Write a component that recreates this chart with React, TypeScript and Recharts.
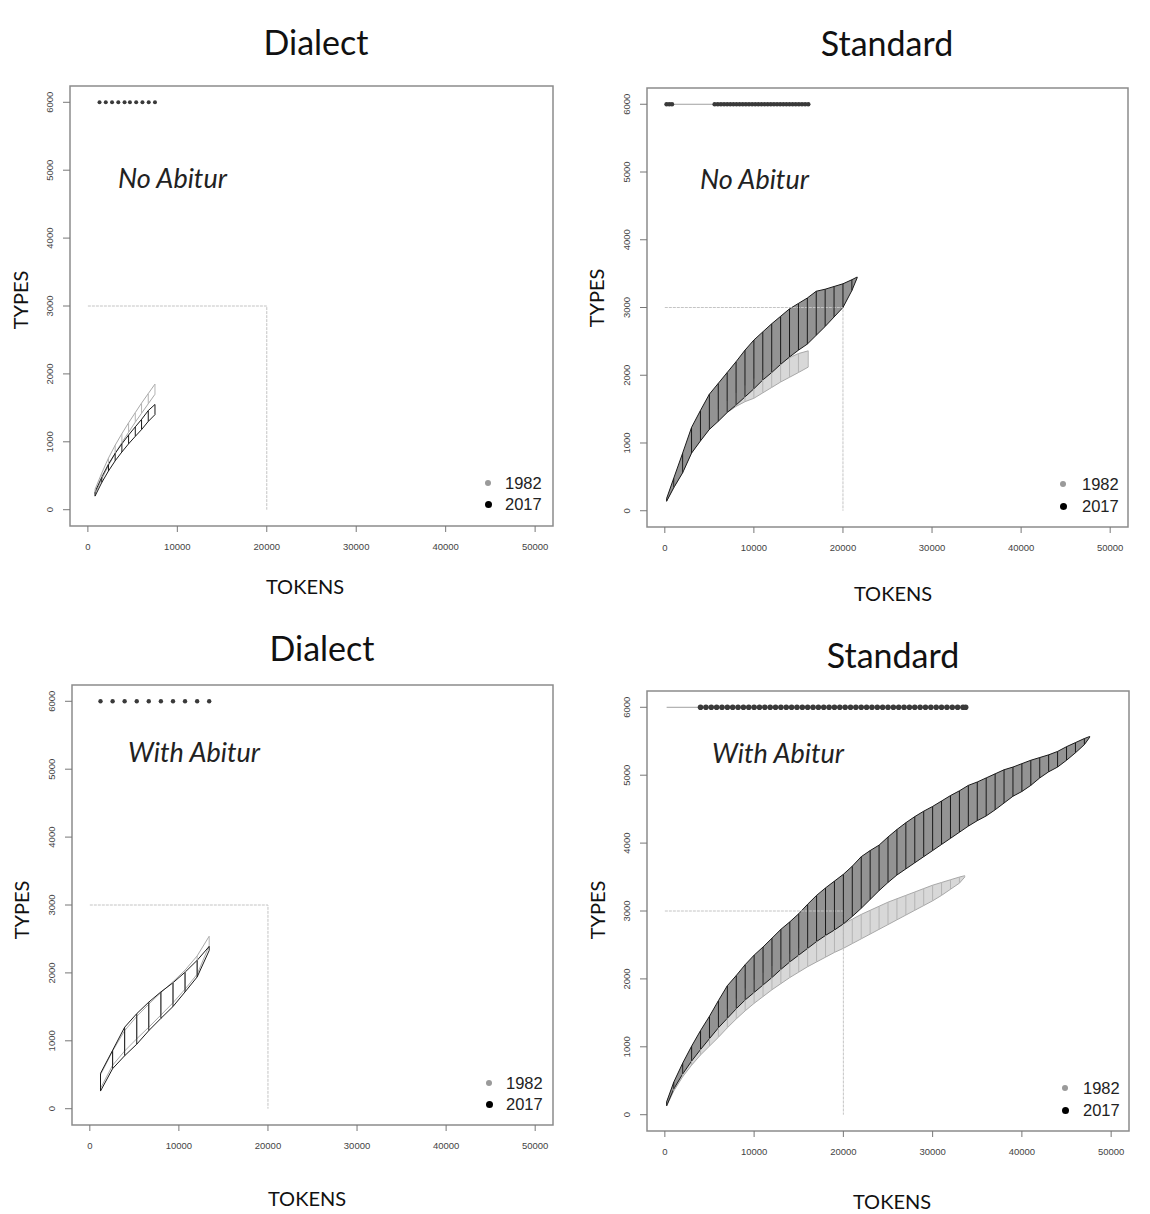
import React from 'react';
import { ComposedChart, XAxis, YAxis, Line, Area, Scatter, ErrorBar, ReferenceArea } from 'recharts';

const tokenTicks = [0, 10000, 20000, 30000, 40000, 50000];
const typeTicks = [0, 1000, 2000, 3000, 4000, 5000, 6000];
const guideTokens = [0, 20000, 20000];
const guideTypes = [3000, 3000, 0];
const legendYears = ['1982', '2017'];

// Dialect, no Abitur
const dnaTokens = [800, 1550, 2300, 3050, 3800, 4550, 5300, 6000, 6750, 7500];
const dna1982Lo = [230, 450, 650, 830, 990, 1140, 1290, 1420, 1560, 1700];
const dna1982Hi = [300, 540, 760, 950, 1120, 1280, 1430, 1570, 1710, 1850];
const dna2017Lo = [200, 400, 570, 720, 850, 970, 1080, 1180, 1300, 1400];
const dna2017Hi = [260, 480, 670, 830, 970, 1100, 1220, 1330, 1460, 1550];
const dnaSig = [1300, 2000, 2700, 3400, 4100, 4700, 5400, 6100, 6800, 7500];

// Standard, no Abitur
const sna2017Tokens = [200, 1000, 2000, 3000, 4000, 5000, 6000, 7000, 8000, 9000, 10000, 11000, 12000, 13000, 14000, 15000, 16000, 17000, 18000, 19000, 20000, 21000, 21600];
const sna2017Lo = [140, 340, 560, 850, 1030, 1200, 1320, 1450, 1560, 1680, 1800, 1930, 2040, 2160, 2270, 2370, 2460, 2590, 2720, 2860, 3000, 3250, 3440];
const sna2017Hi = [180, 480, 850, 1230, 1480, 1720, 1880, 2040, 2200, 2370, 2520, 2640, 2760, 2870, 2980, 3060, 3140, 3240, 3270, 3310, 3350, 3410, 3450];
const sna1982Tokens = [200, 1000, 2000, 3000, 4000, 5000, 6000, 7000, 8000, 9000, 10000, 11000, 12000, 13000, 14000, 15000, 16100];
const sna1982Lo = [140, 340, 570, 860, 1040, 1210, 1330, 1450, 1540, 1610, 1660, 1740, 1820, 1900, 1970, 2040, 2120];
const sna1982Hi = [170, 430, 720, 960, 1170, 1340, 1490, 1620, 1740, 1850, 1950, 2040, 2120, 2190, 2260, 2320, 2360];
const snaSig = [200, 500, 800, 5600, 5950, 6300, 6650, 7000, 7350, 7700, 8050, 8400, 8750, 9100, 9450, 9800, 10150, 10500, 10850, 11200, 11550, 11900, 12250, 12600, 12950, 13300, 13650, 14000, 14350, 14700, 15050, 15400, 15750, 16100];
const snaSigSpan = [200, 16100];

// Dialect, with Abitur
const dwaTokens = [1200, 2560, 3910, 5270, 6620, 7980, 9340, 10690, 12050, 13400];
const dwa1982Lo = [300, 640, 850, 1030, 1200, 1380, 1560, 1760, 1980, 2400];
const dwa1982Hi = [500, 850, 1150, 1360, 1540, 1710, 1870, 2040, 2250, 2540];
const dwa2017Lo = [260, 590, 780, 950, 1150, 1330, 1505, 1720, 1940, 2330];
const dwa2017Hi = [520, 860, 1200, 1400, 1570, 1720, 1855, 2010, 2185, 2390];
const dwaSig = [1200, 2560, 3910, 5270, 6620, 7980, 9340, 10690, 12050, 13400];

// Standard, with Abitur
const swa2017Tokens = [200, 1000, 2000, 3000, 4000, 5000, 6000, 7000, 8000, 9000, 10000, 11000, 12000, 13000, 14000, 15000, 16000, 17000, 18000, 19000, 20000, 21000, 22000, 23000, 24000, 25000, 26000, 27000, 28000, 29000, 30000, 31000, 32000, 33000, 34000, 35000, 36000, 37000, 38000, 39000, 40000, 41000, 42000, 43000, 44000, 45000, 46000, 47000, 47600];
const swa2017Lo = [130, 380, 600, 790, 960, 1120, 1280, 1420, 1560, 1690, 1800, 1910, 2020, 2140, 2250, 2350, 2450, 2550, 2640, 2720, 2810, 2920, 3040, 3170, 3300, 3420, 3530, 3620, 3710, 3800, 3890, 3980, 4070, 4160, 4250, 4330, 4400, 4490, 4590, 4690, 4760, 4850, 4960, 5050, 5120, 5220, 5330, 5450, 5560];
const swa2017Hi = [190, 480, 760, 1010, 1240, 1450, 1680, 1900, 2050, 2210, 2350, 2470, 2600, 2730, 2840, 2960, 3100, 3230, 3340, 3440, 3540, 3660, 3800, 3890, 3970, 4090, 4200, 4300, 4390, 4470, 4540, 4620, 4700, 4770, 4850, 4900, 4960, 5020, 5080, 5120, 5170, 5220, 5260, 5300, 5350, 5420, 5480, 5540, 5570];
const swa1982Tokens = [200, 1000, 2000, 3000, 4000, 5000, 6000, 7000, 8000, 9000, 10000, 11000, 12000, 13000, 14000, 15000, 16000, 17000, 18000, 19000, 20000, 21000, 22000, 23000, 24000, 25000, 26000, 27000, 28000, 29000, 30000, 31000, 32000, 33000, 33600];
const swa1982Lo = [130, 350, 560, 730, 880, 1010, 1140, 1280, 1410, 1530, 1640, 1740, 1840, 1930, 2020, 2100, 2180, 2250, 2320, 2390, 2450, 2520, 2590, 2660, 2730, 2800, 2870, 2940, 3010, 3080, 3150, 3230, 3320, 3410, 3500];
const swa1982Hi = [180, 440, 700, 900, 1080, 1250, 1400, 1560, 1710, 1860, 1990, 2090, 2190, 2280, 2370, 2450, 2530, 2600, 2670, 2740, 2810, 2880, 2950, 3010, 3070, 3130, 3180, 3230, 3280, 3330, 3380, 3420, 3460, 3500, 3520];
const swaSig = [4000, 4600, 5200, 5800, 6400, 7000, 7600, 8200, 8800, 9400, 10000, 10600, 11200, 11800, 12400, 13000, 13600, 14200, 14800, 15400, 16000, 16600, 17200, 17800, 18400, 19000, 19600, 20200, 20800, 21400, 22000, 22600, 23200, 23800, 24400, 25000, 25600, 26200, 26800, 27400, 28000, 28600, 29200, 29800, 30400, 31000, 31600, 32200, 32800, 33400, 33700];
const swaSigSpan = [200, 33700];

const SIG_LEVEL = 6000;

type Pt = { x: number; y: number; lo?: number; hi?: number };

const toBand = (xs: number[], lo: number[], hi: number[]): Pt[] =>
  xs.map((x, i) => ({ x, y: lo[i], lo: lo[i], hi: hi[i] }));
const toRow = (xs: number[], level: number): Pt[] => xs.map((x) => ({ x, y: level }));
const guide: Pt[] = guideTokens.map((x, i) => ({ x, y: guideTypes[i] }));

const labelFont = 'Lato, "Open Sans", sans-serif';
const tickFont = '"Liberation Sans", Arial, sans-serif';

const XTick = (p: any) => (
  <text x={p.x} y={p.y + 10} textAnchor="middle" fontSize={9.5} fill="#444" fontFamily={tickFont}>
    {p.payload.value}
  </text>
);

const YTick = (p: any) => (
  <text
    x={p.x}
    y={p.y}
    transform={`rotate(-90, ${p.x}, ${p.y})`}
    textAnchor="middle"
    fontSize={9.5}
    fill="#444"
    fontFamily={tickFont}
  >
    {p.payload.value}
  </text>
);

const Blank = () => <g />;

interface Box {
  left: number;
  top: number;
  right: number;
  bottom: number;
}

interface PanelProps {
  plot: Box;
  title: string;
  titleAt: [number, number];
  note: string;
  noteAt: [number, number];
  typesAt: [number, number];
  tokensAt: [number, number];
  legendAt: [number, number, number, number]; // dot x, text x, row1 y, row2 y
  old: Pt[];
  recent: Pt[];
  sig: Pt[];
  sigSpan?: Pt[];
  filled: boolean;
  markerR: number;
}

function Panel(props: PanelProps) {
  const { plot, filled } = props;
  const width = plot.right - plot.left + 80;
  const height = plot.bottom - plot.top + 60;
  const [dotX, textX, row1, row2] = props.legendAt;

  const oldStroke = '#a8a8a8';
  const recentStroke = '#1a1a1a';

  return (
    <>
      <div style={{ position: 'absolute', left: plot.left - 70, top: plot.top - 10 }}>
        <ComposedChart width={width} height={height} margin={{ top: 10, right: 10, bottom: 10, left: 10 }}>
          <XAxis
            type="number"
            dataKey="x"
            domain={[-2000, 52000]}
            ticks={tokenTicks}
            interval={0}
            allowDataOverflow
            axisLine={false}
            tickLine={{ stroke: '#777' }}
            tickSize={6}
            tickMargin={8}
            height={40}
            tick={XTick}
          />
          <YAxis
            type="number"
            dataKey="y"
            domain={[-240, 6240]}
            ticks={typeTicks}
            interval={0}
            allowDataOverflow
            axisLine={false}
            tickLine={{ stroke: '#777' }}
            tickSize={7}
            tickMargin={10}
            width={60}
            tick={YTick}
          />
          <ReferenceArea
            x1={-2000}
            x2={52000}
            y1={-240}
            y2={6240}
            fill="none"
            stroke="#8c8c8c"
            strokeWidth={1.5}
            ifOverflow="visible"
          />
          <Line
            data={guide}
            dataKey="y"
            stroke="#c4c4c4"
            strokeWidth={1}
            strokeDasharray="3 1"
            dot={false}
            isAnimationActive={false}
          />

          {/* 1982 band */}
          <Area
            data={props.old}
            dataKey={(d: any) => [d.lo, d.hi]}
            type="linear"
            stroke={oldStroke}
            strokeWidth={1}
            fill={filled ? '#d8d8d8' : 'none'}
            fillOpacity={1}
            dot={false}
            activeDot={false}
            isAnimationActive={false}
          />
          <Scatter data={props.old} shape={Blank} isAnimationActive={false}>
            <ErrorBar
              dataKey={(d: any) => [0, d.hi - d.lo]}
              direction="y"
              width={0}
              stroke="#b4b4b4"
              strokeWidth={1}
              isAnimationActive={false}
            />
          </Scatter>

          {/* 2017 band */}
          <Area
            data={props.recent}
            dataKey={(d: any) => [d.lo, d.hi]}
            type="linear"
            stroke={recentStroke}
            strokeWidth={1}
            fill={filled ? '#939393' : 'none'}
            fillOpacity={1}
            dot={false}
            activeDot={false}
            isAnimationActive={false}
          />
          <Scatter data={props.recent} shape={Blank} isAnimationActive={false}>
            <ErrorBar
              dataKey={(d: any) => [0, d.hi - d.lo]}
              direction="y"
              width={0}
              stroke={recentStroke}
              strokeWidth={1}
              isAnimationActive={false}
            />
          </Scatter>

          {/* significance row */}
          {props.sigSpan && (
            <Line
              data={props.sigSpan}
              dataKey="y"
              stroke="#a0a0a0"
              strokeWidth={1}
              dot={false}
              isAnimationActive={false}
            />
          )}
          <Scatter
            data={props.sig}
            isAnimationActive={false}
            shape={(s: any) => <circle cx={s.cx} cy={s.cy} r={props.markerR} fill="#3a3a3a" />}
          />
        </ComposedChart>
      </div>

      <div
        style={{
          position: 'absolute',
          left: props.titleAt[0],
          top: props.titleAt[1],
          transform: 'translate(-50%, -50%)',
          fontFamily: labelFont,
          fontSize: 34,
          lineHeight: 1,
          color: '#111',
          whiteSpace: 'nowrap',
        }}
      >
        {props.title}
      </div>
      <div
        style={{
          position: 'absolute',
          left: props.noteAt[0],
          top: props.noteAt[1],
          transform: 'translateY(-50%)',
          fontFamily: labelFont,
          fontStyle: 'italic',
          fontSize: 27,
          lineHeight: 1,
          color: '#222',
          whiteSpace: 'nowrap',
        }}
      >
        {props.note}
      </div>
      <div
        style={{
          position: 'absolute',
          left: props.typesAt[0],
          top: props.typesAt[1],
          transform: 'translate(-50%, -50%) rotate(-90deg)',
          fontFamily: labelFont,
          fontSize: 20,
          lineHeight: 1,
          color: '#111',
          whiteSpace: 'nowrap',
        }}
      >
        TYPES
      </div>
      <div
        style={{
          position: 'absolute',
          left: props.tokensAt[0],
          top: props.tokensAt[1],
          transform: 'translate(-50%, -50%)',
          fontFamily: labelFont,
          fontSize: 20,
          lineHeight: 1.1,
          color: '#111',
          whiteSpace: 'nowrap',
        }}
      >
        TOKENS
      </div>

      {legendYears.map((year, i) => {
        const y = i === 0 ? row1 : row2;
        const r = i === 0 ? 3 : 3.5;
        return (
          <React.Fragment key={year}>
            <div
              style={{
                position: 'absolute',
                left: dotX - r,
                top: y - r,
                width: r * 2,
                height: r * 2,
                borderRadius: '50%',
                background: i === 0 ? '#9a9a9a' : '#000',
              }}
            />
            <div
              style={{
                position: 'absolute',
                left: textX,
                top: y,
                transform: 'translateY(-50%)',
                fontFamily: tickFont,
                fontSize: 16.5,
                lineHeight: 1,
                color: '#222',
              }}
            >
              {year}
            </div>
          </React.Fragment>
        );
      })}
    </>
  );
}

export default function App() {
  return (
    <div
      style={{
        position: 'absolute',
        left: 0,
        top: 0,
        width: 1150,
        height: 1214,
        background: '#fff',
        overflow: 'hidden',
      }}
    >
      <Panel
        plot={{ left: 70, top: 86, right: 553, bottom: 526 }}
        title="Dialect"
        titleAt={[316, 42]}
        note="No Abitur"
        noteAt={[118, 177]}
        typesAt={[20, 300]}
        tokensAt={[305, 586]}
        legendAt={[488, 505, 483, 504]}
        old={toBand(dnaTokens, dna1982Lo, dna1982Hi)}
        recent={toBand(dnaTokens, dna2017Lo, dna2017Hi)}
        sig={toRow(dnaSig, SIG_LEVEL)}
        filled={false}
        markerR={2}
      />
      <Panel
        plot={{ left: 647, top: 88, right: 1128, bottom: 527 }}
        title="Standard"
        titleAt={[887, 43]}
        note="No Abitur"
        noteAt={[700, 178]}
        typesAt={[596, 298]}
        tokensAt={[893, 593]}
        legendAt={[1063, 1082, 484, 506]}
        old={toBand(sna1982Tokens, sna1982Lo, sna1982Hi)}
        recent={toBand(sna2017Tokens, sna2017Lo, sna2017Hi)}
        sig={toRow(snaSig, SIG_LEVEL)}
        sigSpan={toRow(snaSigSpan, SIG_LEVEL)}
        filled={true}
        markerR={2.3}
      />
      <Panel
        plot={{ left: 72, top: 685, right: 553, bottom: 1125 }}
        title="Dialect"
        titleAt={[322, 648]}
        note="With Abitur"
        noteAt={[128, 751]}
        typesAt={[21, 910]}
        tokensAt={[307, 1198]}
        legendAt={[489, 506, 1083, 1104]}
        old={toBand(dwaTokens, dwa1982Lo, dwa1982Hi)}
        recent={toBand(dwaTokens, dwa2017Lo, dwa2017Hi)}
        sig={toRow(dwaSig, SIG_LEVEL)}
        filled={false}
        markerR={2.2}
      />
      <Panel
        plot={{ left: 647, top: 691, right: 1129, bottom: 1131 }}
        title="Standard"
        titleAt={[893, 655]}
        note="With Abitur"
        noteAt={[712, 752]}
        typesAt={[597, 910]}
        tokensAt={[892, 1201]}
        legendAt={[1065, 1083, 1088, 1110]}
        old={toBand(swa1982Tokens, swa1982Lo, swa1982Hi)}
        recent={toBand(swa2017Tokens, swa2017Lo, swa2017Hi)}
        sig={toRow(swaSig, SIG_LEVEL)}
        sigSpan={toRow(swaSigSpan, SIG_LEVEL)}
        filled={true}
        markerR={2.8}
      />
    </div>
  );
}
